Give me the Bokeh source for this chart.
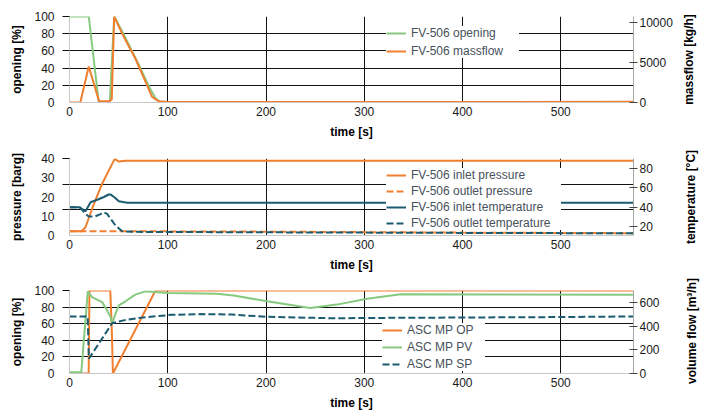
import math
from bokeh.plotting import figure
from bokeh.models import Range1d, LinearAxis, FixedTicker, Legend, LegendItem
from bokeh.layouts import column, row
from bokeh.embed import file_html
from bokeh.resources import INLINE

# ---------------- data ----------------
# panel 1
t_opening = [0, 19.6, 29.8, 41, 45.5, 55.2, 70.5, 80.7, 87.5, 92.6, 574]
fv_opening = [100, 100, 0, 0, 100, 79, 44, 19, 5, 0, 0]
t_massflow = [0, 11, 19.6, 30, 40, 43, 45.5, 53.6, 67, 77.3, 84, 91, 100, 574]
fv_massflow = [0, 0, 4500, 200, 150, 400, 10750, 8600, 5500, 2600, 700, 150, 50, 80]

# panel 2
t_inlet_p = [0, 12.2, 16.3, 23, 33.2, 46, 50.2, 57, 574]
inlet_p = [2.2, 2.2, 4.3, 13.9, 26.9, 39.8, 38.4, 38.8, 38.8]
t_outlet_p = [0, 60, 200, 400, 574]
outlet_p = [2.2, 2.2, 2.0, 1.5, 1.2]
t_inlet_T = [0, 9.5, 13, 16.3, 21.4, 28.2, 35, 40, 42, 46, 50.2, 58.7, 574]
inlet_T = [39.9, 39.9, 38, 35.8, 45.1, 47.6, 50.5, 53.1, 53, 50, 46.1, 44.5, 44.5]
t_outlet_T = [0, 10.5, 16.3, 19.6, 26.4, 31, 34.9, 38.3, 42.5, 46.8, 53.6, 63.8, 200, 400, 574]
outlet_T = [39.9, 39.9, 33, 30.2, 30.5, 32.5, 34.7, 33, 27, 20.9, 15, 14.3, 13.8, 13.2, 12.8]

# panel 3
t_op = [0, 19.5, 20.3, 41.5, 43, 44.2, 87.5, 574]
asc_op = [0, 0, 100, 100, 55, 0, 100, 100]
t_pv = [0, 12, 18.6, 23, 33.2, 38.3, 41.7, 43.4, 46.8, 50.2, 57, 67, 77, 100, 150,
        167, 201, 245, 272, 303, 337, 574]
asc_pv = [10, 10, 693, 644, 602, 532, 476, 424, 504, 574, 609, 665, 693, 678, 672,
          658, 609, 553, 581, 630, 669, 664]
t_sp = [0, 18.5, 19.7, 43.4, 55, 70.5, 104, 135, 165, 201, 269, 320, 420, 500, 574]
asc_sp = [481, 481, 124, 424, 448, 469, 495, 501, 497, 478, 466, 469, 473, 476, 481]

x_ticks = [0, 100, 200, 300, 400, 500]

ORANGE = "#F07F30"
GREEN = "#86C97F"
TEAL = "#1B5C71"
FONT = "Liberation Sans"
FRAME_W = 564
RIGHT_BORDER = 42
LAB_W = 32


def make_fig(frame_h, top, bottom, y_range, left_ticks, grid_ticks, left_label,
             left_standoff, r_range, r_ticks):
    p = figure(frame_width=FRAME_W, frame_height=frame_h, min_border_left=69,
               min_border_right=RIGHT_BORDER, min_border_top=top, min_border_bottom=bottom,
               x_range=Range1d(0, 574), y_range=Range1d(*y_range),
               output_backend="svg", toolbar_location=None)
    p.outline_line_color = None
    p.extra_y_ranges = {"r": Range1d(*r_range)}
    rax = LinearAxis(y_range_name="r", ticker=FixedTicker(ticks=r_ticks))
    p.add_layout(rax, "right")

    for ax in p.axis:
        ax.major_label_text_font = FONT
        ax.major_label_text_font_size = "12px"
        ax.major_label_text_color = "#1a1a1a"
        ax.axis_label_text_font = FONT
        ax.axis_label_text_font_size = "12px"
        ax.axis_label_text_font_style = "bold"
        ax.axis_label_text_color = "black"

    xa = p.xaxis[0]
    xa.ticker = FixedTicker(ticks=x_ticks)
    xa.major_tick_out = 0
    xa.major_tick_in = 0
    xa.axis_line_color = "#C8C8C8"
    xa.major_label_standoff = 4
    xa.axis_label = "time [s]"
    xa.axis_label_standoff = 6

    ya = p.yaxis[0]
    ya.ticker = FixedTicker(ticks=left_ticks, minor_ticks=grid_ticks)
    ya.major_tick_out = 0
    ya.major_tick_in = 0
    ya.minor_tick_out = 7
    ya.minor_tick_in = 0
    ya.minor_tick_line_color = "#111111"
    ya.axis_line_color = "#C8C8C8"
    ya.major_label_standoff = 8
    ya.axis_label = left_label
    ya.axis_label_standoff = left_standoff

    rax.major_tick_in = 4
    rax.major_tick_out = 4
    rax.minor_tick_out = 0
    rax.minor_tick_in = 0
    rax.axis_line_color = "#A8A8A8"
    rax.major_tick_line_color = "#444444"
    rax.major_label_standoff = 2

    p.xgrid[0].ticker = FixedTicker(ticks=[100, 200, 300, 400, 500])
    p.ygrid[0].ticker = FixedTicker(ticks=grid_ticks)
    p.grid.grid_line_color = "#111111"
    p.grid.grid_line_width = 1
    return p


def right_title(text, total_h, top, bottom, offset):
    """Narrow strip whose (tick-less) left axis carries the right-hand title,
    so that it reads bottom-to-top like the reference."""
    q = figure(width=LAB_W, height=total_h, x_range=Range1d(0, 1), y_range=Range1d(0, 1),
               min_border_left=offset, min_border_right=0, min_border_top=top,
               min_border_bottom=bottom, x_axis_location=None,
               output_backend="svg", toolbar_location=None)
    q.grid.visible = False
    q.outline_line_color = None
    ax = q.yaxis[0]
    ax.ticker = FixedTicker(ticks=[])
    ax.axis_line_color = None
    ax.major_tick_line_color = None
    ax.minor_tick_line_color = None
    ax.major_tick_out = 0
    ax.major_tick_in = 0
    ax.minor_tick_out = 0
    ax.axis_label = text
    ax.axis_label_standoff = 0
    ax.axis_label_text_font = FONT
    ax.axis_label_text_font_size = "12px"
    ax.axis_label_text_font_style = "bold"
    ax.axis_label_text_color = "black"
    return q


def add_legend(p, items, loc, spacing, label_w):
    lg = Legend(items=items, location=loc, orientation="vertical")
    lg.label_text_font = FONT
    lg.label_text_font_size = "12px"
    lg.label_text_color = "#47515b"
    lg.glyph_width = 20
    lg.glyph_height = 14
    lg.label_height = 14
    lg.label_width = label_w
    lg.label_standoff = 5
    lg.spacing = spacing
    lg.padding = 3
    lg.margin = 0
    lg.border_line_color = None
    lg.background_fill_color = "white"
    lg.background_fill_alpha = 1.0
    p.add_layout(lg)


# ---------- panel 1 ----------
p1 = make_fig(86, 16, 43, (0, 100), [0, 20, 40, 60, 80, 100], [20, 40, 60, 80, 100],
              "opening [%]", 7, (0, 10750), [0, 5000, 10000])
r1 = p1.line(t_opening, fv_opening, line_color=GREEN, line_width=2)
r2 = p1.line(t_massflow, fv_massflow, line_color=ORANGE, line_width=2, y_range_name="r")
add_legend(p1, [LegendItem(label="FV-506 opening", renderers=[r1]),
                LegendItem(label="FV-506 massflow", renderers=[r2])], (317, 44), 4, 108)
l1 = right_title("massflow [kg/h]", 145, 16, 43, 20)

# ---------- panel 2 ----------
p2 = make_fig(77, 13, 40, (0, 40), [0, 10, 20, 30, 40], [40 / 3, 80 / 3, 40],
              "pressure [barg]", 14, (10.5, 90.5), [20, 40, 60, 80])
q1 = p2.line(t_inlet_p, inlet_p, line_color=ORANGE, line_width=2)
q2 = p2.line(t_outlet_p, outlet_p, line_color=ORANGE, line_width=2, line_dash="7 3")
q3 = p2.line(t_inlet_T, inlet_T, line_color=TEAL, line_width=2, y_range_name="r")
q4 = p2.line(t_outlet_T, outlet_T, line_color=TEAL, line_width=2, line_dash="7 3",
             y_range_name="r")
add_legend(p2, [LegendItem(label="FV-506 inlet pressure", renderers=[q1]),
                LegendItem(label="FV-506 outlet pressure", renderers=[q2]),
                LegendItem(label="FV-506 inlet temperature", renderers=[q3]),
                LegendItem(label="FV-506 outlet temperature", renderers=[q4])],
           (317, 5), 2, 150)
l2 = right_title("temperature [°C]", 130, 13, 40, 22)

# ---------- panel 3 ----------
p3 = make_fig(83, 15, 37, (0, 100), [0, 20, 40, 60, 80, 100], [20, 40, 60, 80, 100],
              "opening [%]", 7, (0, 700), [0, 200, 400, 600])
s1 = p3.line(t_op, asc_op, line_color=ORANGE, line_width=2)
s2 = p3.line(t_pv, asc_pv, line_color=GREEN, line_width=2, y_range_name="r")
s3 = p3.line(t_sp, asc_sp, line_color=TEAL, line_width=2, line_dash="7 3", y_range_name="r")
add_legend(p3, [LegendItem(label="ASC MP OP", renderers=[s1]),
                LegendItem(label="ASC MP PV", renderers=[s2]),
                LegendItem(label="ASC MP SP", renderers=[s3])], (313, 2), 3, 78)
l3 = right_title("volume flow [m³/h]", 135, 15, 37, 23)

layout = column(row(p1, l1, spacing=0), row(p2, l2, spacing=0), row(p3, l3, spacing=0),
                spacing=0)
open("out.html", "w").write(file_html(layout, INLINE))
